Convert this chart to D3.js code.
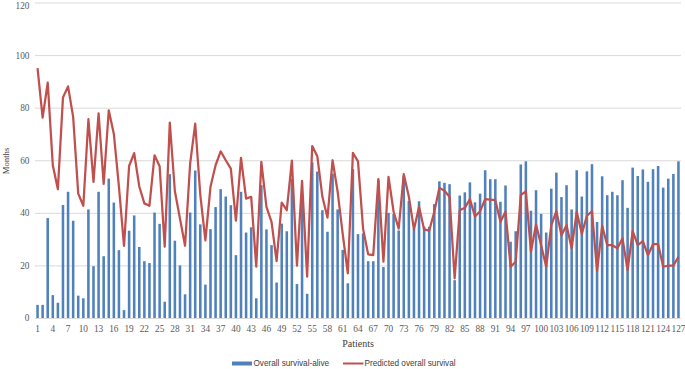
<!DOCTYPE html>
<html>
<head>
<meta charset="utf-8">
<script src="https://cdn.jsdelivr.net/npm/d3@7"></script>
<style>
html,body{margin:0;padding:0;background:#fff;}
svg{display:block;}
</style>
</head>
<body>
<svg id="chart" width="685" height="369"></svg>
<script>
const patients = d3.range(1, 128);
const aliveSurvival = [5,5,38,8.7,5.8,43,48,37,8.5,7.5,41.3,19.7,48,23.5,53,43.9,25.8,3,33.2,39,
27,21.6,20.9,40.1,35.8,6.2,54.7,29.4,20,9,40.1,56.1,35.6,12.7,33.8,42.2,49,46.2,42.9,23.9,
48,32.5,34.5,7.5,50.5,33.7,27.7,13.5,35.9,33,53,12.9,46,9.2,59.2,55.7,41,32.8,54.9,41.3,
25.9,13.2,56.6,31.9,32.2,21.6,21.6,52.5,19.4,40,39.5,33.3,54,44.5,34,44.4,34.7,34.7,43.3,52,
51.4,50.9,14.4,46.6,47.8,51.6,44,47.3,56.2,52.8,52.8,44.2,50.4,29,33,58.4,59.6,40.8,48.6,39.6,
32.5,49.2,55.3,46,50.5,41.3,56.2,46.2,55.8,58.5,36.5,53.9,46.7,48,46.7,52.4,41.9,57.2,54,56.5,
51.8,56.6,57.8,49.6,53,54.8,59.6];
const predictedSurvival = [95,76.2,89.5,58.1,49,83.9,88.1,76.5,47.3,42.7,75.6,51.8,77.8,51,79,70,50,27.4,57.8,62.7,
50,43.6,42.7,61.9,57.7,27.1,74.3,48.2,37.8,27.5,58.7,73.9,46.7,29.5,49.9,58.1,63.4,60,56.8,37,
60.9,45.4,46.1,19.5,59.4,42.3,36.6,21.6,43.9,41,59.9,19.9,52.2,15.7,65.4,61.5,46.1,38.2,60,48,
31.9,17,62.8,59.6,34,24.2,23.9,52.8,21.4,53.7,40.4,34,54.7,46.1,33.7,42.3,33.7,33.2,40.4,49.5,
48.4,46.1,15.1,41,41.9,45.2,38.6,40.6,45.2,45,44.8,36.6,40.4,19.5,21.4,46.7,48.2,25.2,35.6,27.7,
19.5,35.3,40.6,31.5,35.3,26.5,40.4,32,38.9,40.6,17.8,35.1,27.7,27.7,26.5,30.3,18.2,33,27.7,29.2,
23.9,28.1,28.1,19.5,19.9,19.9,23.3];
const yTicks = [0,20,40,60,80,100,120];
const xTickLabels = patients.filter(p => (p - 1) % 3 === 0);
const seriesNames = ["Overall survival-alive", "Predicted overall survival"];

const svg = d3.select("#chart");
const plotLeft = 35, plotRight = 681, plotTop = 2.5, plotBottom = 318;

const x = d3.scaleBand().domain(patients).range([plotLeft, plotRight]).paddingInner(0.5).paddingOuter(0.25);
const y = d3.scaleLinear().domain([0, 120]).range([plotBottom, plotTop]);

const serif = "'Liberation Serif', 'Times New Roman', serif";
const sans = "'Liberation Sans', Arial, sans-serif";

// Y axis with gridlines
const yAxis = svg.append("g").attr("transform", `translate(${plotLeft},0)`)
  .call(d3.axisLeft(y).tickValues(yTicks).tickSize(-(plotRight - plotLeft)).tickPadding(5.5));
yAxis.select(".domain").remove();
yAxis.selectAll("line").attr("stroke", "#d9d9d9").attr("stroke-width", 1);
yAxis.selectAll("text").attr("fill", "#595959").style("font-family", serif).style("font-size", "9.3px");
// keep the topmost label inside the picture
yAxis.selectAll(".tick").filter(d => d === 120).select("text").attr("dy", "0.62em");

// Bars
svg.append("g").selectAll("rect").data(patients).join("rect")
  .attr("x", d => x(d))
  .attr("width", x.bandwidth())
  .attr("y", (d, i) => y(aliveSurvival[i]))
  .attr("height", (d, i) => y(0) - y(aliveSurvival[i]))
  .attr("fill", "#4f81bd");

// Line
const line = d3.line()
  .x((d, i) => x(patients[i]) + x.bandwidth() / 2)
  .y(d => y(d));
svg.append("path").datum(predictedSurvival)
  .attr("d", line)
  .attr("fill", "none")
  .attr("stroke", "#c0504d")
  .attr("stroke-width", 2.25)
  .attr("stroke-linejoin", "round");

// X axis
const xAxis = svg.append("g").attr("transform", `translate(0,${plotBottom})`)
  .call(d3.axisBottom(x).tickValues(xTickLabels).tickSize(0).tickPadding(7));
xAxis.select(".domain").remove();
xAxis.selectAll("text").attr("fill", "#595959").style("font-family", serif).style("font-size", "9.3px");

// Axis titles
svg.append("text").attr("x", 358).attr("y", 347).attr("text-anchor", "middle")
  .style("font-family", serif).style("font-size", "10px").attr("fill", "#404040").text("Patients");
svg.append("text").attr("transform", "translate(8.5,161) rotate(-90)").attr("text-anchor", "middle")
  .style("font-family", serif).style("font-size", "8.7px").attr("fill", "#404040").text("Months");

// Legend
const lg = svg.append("g");
lg.append("rect").attr("x", 232).attr("y", 361.5).attr("width", 20).attr("height", 4).attr("fill", "#4f81bd");
lg.append("text").attr("x", 253.5).attr("y", 366).style("font-family", sans).style("font-size", "8.2px")
  .attr("fill", "#404040").text(seriesNames[0]);
lg.append("line").attr("x1", 343).attr("x2", 363.5).attr("y1", 363.5).attr("y2", 363.5)
  .attr("stroke", "#c0504d").attr("stroke-width", 2);
lg.append("text").attr("x", 364.5).attr("y", 366).style("font-family", sans).style("font-size", "8.2px")
  .attr("fill", "#404040").text(seriesNames[1]);
</script>
</body>
</html>
